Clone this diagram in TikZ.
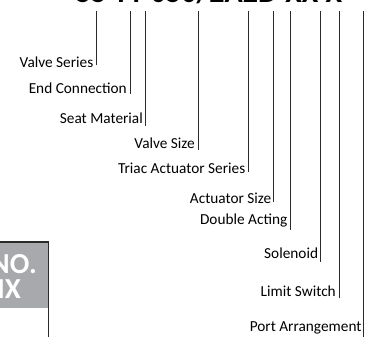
\documentclass[tikz,border=0pt]{standalone}
\usepackage{fontspec}
\setmainfont{Carlito}
\definecolor{boxgray}{HTML}{A7A9AC}
\definecolor{leadgray}{HTML}{2A2A2A}
\begin{document}
\begin{tikzpicture}[x=1pt,y=-1pt,
  lbl/.style={anchor=base east, inner sep=0pt, font=\fontsize{15.3}{17}\selectfont},
  leader/.style={draw=leadgray, line width=0.9pt},
  bigw/.style={anchor=base east, inner sep=0pt, text=white, font=\bfseries\fontsize{29}{29}\selectfont}]
\useasboundingbox (0,0) rectangle (378,337);
\clip (0,0) rectangle (378,337);
% heading (mostly cut off at top)
\node[anchor=base west, inner sep=0pt, font=\bfseries\fontsize{30}{30}\selectfont] (head) at (76,3) {55-TT-050/2A2D-XX-X};
% labels
\node[lbl] (l1) at (93.5,68) {Valve Series};
\node[lbl] (l2) at (127,94) {End Connection};
\node[lbl] (l3) at (143,123.3) {Seat Material};
\node[lbl] (l4) at (195,148.3) {Valve Size};
\node[lbl] (l5) at (245.5,173) {Triac Actuator Series};
\node[lbl] (l6) at (271.5,203.3) {Actuator Size};
\node[lbl] (l7) at (287.5,224.3) {Double Acting};
\node[lbl] (l8) at (318.3,258) {Solenoid};
\node[lbl] (l9) at (336,296.7) {Limit Switch};
\node[lbl] (l10) at (361.7,331.7) {Port Arrangement};
% leader tops and bottoms
\foreach \i/\x/\yb in {1/96.7/65, 2/130/94, 3/145.5/125.7, 4/198.7/150, 5/248/171.7, 6/273.5/201.7, 7/290.8/230, 8/320.7/261.7, 9/339.7/298.3, 10/363.7/340}{
  \coordinate (t\i) at (\x,11);
  \coordinate (b\i) at (\x,\yb);
  \draw[leader] (t\i) -- (b\i);
}
% gray matrix box
\fill[boxgray] (-5,242) rectangle (48.5,308);
\draw[leadgray, line width=1.2pt] (-5,242) -- (48.5,242) -- (48.5,340);
\node[bigw] (pn) at (37,273) {PART NO.};
\node[bigw] (mx) at (21,298) {MATRIX};
\end{tikzpicture}
\end{document}
